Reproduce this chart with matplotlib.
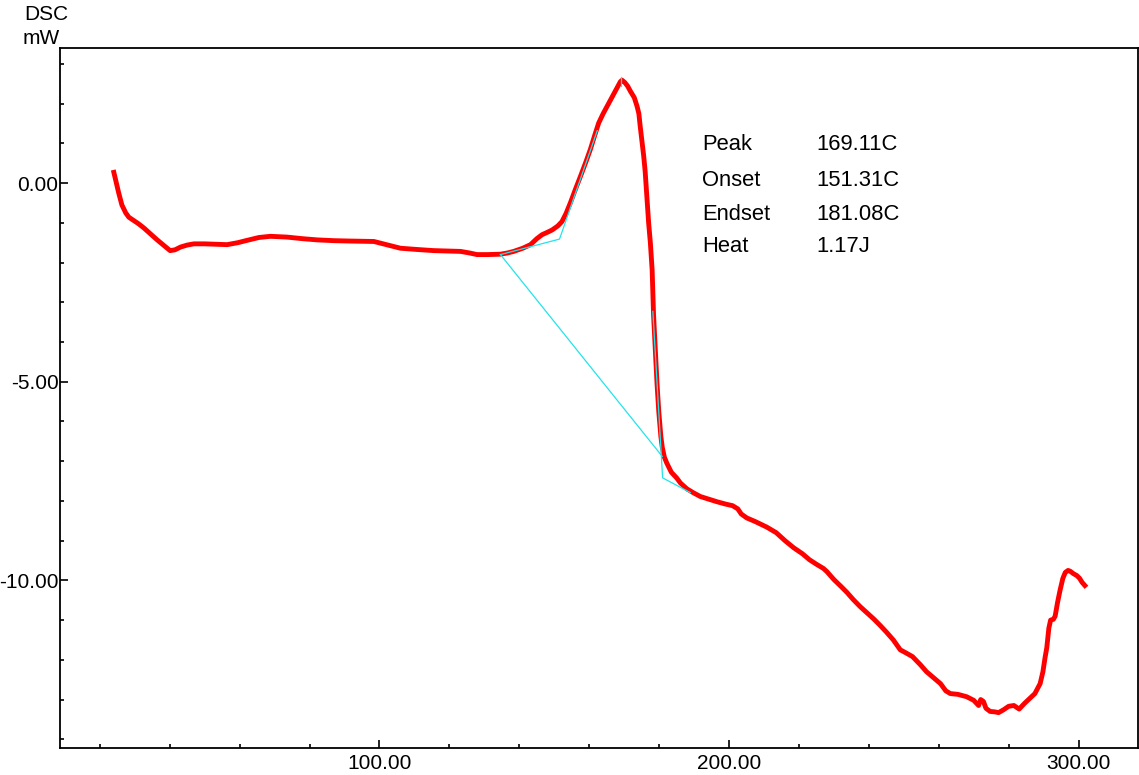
import matplotlib.pyplot as plt
from matplotlib.ticker import MultipleLocator, FormatStrFormatter

plt.rcParams['font.family'] = ['Liberation Sans', 'DejaVu Sans']

# DSC trace (temperature in C, heat flow in mW)
temp = [24.0, 24.6, 25.4, 26.3, 27.4, 28.3, 29.3, 31.0, 32.6, 34.5, 36.4, 38.3, 40.1, 41.5, 43.1,
        45.0, 46.9, 50.0, 53.0, 56.4, 59.5, 62.2, 65.5, 68.8, 71.5, 73.6, 78.0, 82.2, 87.0, 92.0,
        98.4, 102.0, 106.0, 110.5, 115.5, 119.5, 123.2, 125.8, 127.9, 131.0, 134.6, 136.6, 138.4,
        141.0, 143.2, 145.0, 146.5, 148.0, 149.4, 151.0, 152.2, 153.4, 154.6, 156.0, 157.5, 159.0,
        160.3, 161.5, 162.7, 164.0, 165.1, 166.5, 168.0, 168.9, 169.4, 170.2, 171.0, 171.8, 172.9,
        173.7, 174.2, 174.6, 175.1, 175.6, 176.0, 176.5, 177.0, 177.5, 178.0, 178.4, 178.9, 179.4,
        179.9, 180.5, 180.9, 181.5, 182.2, 183.5, 185.0, 186.1, 188.0, 189.9, 191.8, 194.0, 196.5,
        199.0, 201.0, 202.5, 203.5, 205.1, 207.5, 210.8, 213.5, 216.0, 218.5, 221.0, 223.0, 225.1,
        227.0, 228.0, 230.0, 232.0, 233.7, 235.5, 237.5, 239.5, 241.5, 243.3, 245.0, 247.0, 249.0,
        250.5, 252.5, 254.7, 256.5, 258.5, 260.5, 262.0, 263.3, 265.5, 268.0, 270.0, 271.4, 272.0,
        272.8, 273.5, 274.7, 276.0, 277.1, 278.5, 280.0, 281.5, 283.0, 284.5, 286.2, 287.5, 289.0,
        289.8, 290.4, 290.9, 291.5, 292.0, 292.8, 293.3, 294.0, 294.7, 295.5, 296.2, 297.0, 297.6,
        298.5, 299.5, 300.3, 301.0, 301.8]
dsc = [0.27, 0.05, -0.25, -0.55, -0.75, -0.86, -0.92, -1.02, -1.13, -1.28, -1.43, -1.57, -1.70, -1.68,
       -1.61, -1.56, -1.53, -1.53, -1.54, -1.55, -1.50, -1.44, -1.37, -1.34, -1.35, -1.36, -1.40, -1.43,
       -1.45, -1.46, -1.47, -1.55, -1.64, -1.67, -1.70, -1.71, -1.72, -1.76, -1.80, -1.80, -1.79, -1.76,
       -1.72, -1.64, -1.55, -1.40, -1.30, -1.24, -1.18, -1.08, -0.97, -0.76, -0.50, -0.17, 0.17, 0.52,
       0.84, 1.18, 1.51, 1.75, 1.93, 2.16, 2.40, 2.55, 2.59, 2.53, 2.44, 2.31, 2.15, 1.93, 1.75, 1.42,
       1.05, 0.67, 0.30, -0.34, -1.00, -1.51, -2.18, -3.30, -4.20, -5.05, -5.75, -6.38, -6.65, -6.90,
       -7.05, -7.28, -7.42, -7.55, -7.70, -7.80, -7.89, -7.95, -8.02, -8.08, -8.12, -8.20, -8.33, -8.43,
       -8.52, -8.66, -8.80, -9.00, -9.18, -9.33, -9.48, -9.60, -9.70, -9.78, -9.98, -10.15, -10.30,
       -10.48, -10.66, -10.82, -10.98, -11.14, -11.30, -11.50, -11.75, -11.82, -11.92, -12.12, -12.30,
       -12.45, -12.60, -12.78, -12.85, -12.87, -12.93, -13.02, -13.15, -13.00, -13.05, -13.22, -13.30,
       -13.31, -13.33, -13.26, -13.17, -13.15, -13.24, -13.10, -12.96, -12.85, -12.60, -12.30, -11.95,
       -11.70, -11.20, -11.00, -10.98, -10.90, -10.55, -10.25, -9.95, -9.80, -9.75, -9.77, -9.83,
       -9.88, -9.95, -10.05, -10.13]

# analysis construction lines (cyan)
base_t = [134.6, 180.9]
base_y = [-1.80, -6.88]
onset_t = [134.6, 151.5, 162.3]
onset_y = [-1.80, -1.41, 1.32]
endset_t = [178.2, 181.0, 188.9]
endset_y = [-3.23, -7.42, -7.79]
peak_t = [169.2, 169.2]
peak_y = [2.45, 2.68]

result_names = ['Peak', 'Onset', 'Endset', 'Heat']
result_values = ['169.11C', '151.31C', '181.08C', '1.17J']

W, H = 1139, 775
fig = plt.figure(figsize=(W / 100, H / 100), dpi=100)
ax = fig.add_axes([60 / W, 1 - 748 / H, (1138 - 60) / W, (748 - 48) / H])

ax.plot(temp, dsc, color='#ff0000', lw=3.5, solid_joinstyle='round', zorder=2)
cyan = '#22e4ea'
for tt, yy in [(base_t, base_y), (onset_t, onset_y), (endset_t, endset_y), (peak_t, peak_y)]:
    ax.plot(tt, yy, color=cyan, lw=0.9, zorder=3)

ax.set_xlim(8.6, 317)
ax.set_ylim(-14.22, 3.40)
ax.xaxis.set_major_locator(MultipleLocator(100))
ax.xaxis.set_minor_locator(MultipleLocator(20))
ax.yaxis.set_major_locator(MultipleLocator(5))
ax.yaxis.set_minor_locator(MultipleLocator(1))
ax.xaxis.set_major_formatter(FormatStrFormatter('%.2f'))
ax.yaxis.set_major_formatter(FormatStrFormatter('%.2f'))
ax.tick_params(which='both', direction='in', width=1.2, labelsize=15, colors='black')
ax.tick_params(which='major', length=6, pad=4)
ax.tick_params(which='minor', length=2.8)
ax.tick_params(axis='y', which='major', pad=1)
for s in ax.spines.values():
    s.set_linewidth(1.3)

fig.text(24 / W, 1 - 15 / H, 'DSC', fontsize=15, va='center', ha='left')
fig.text(23 / W, 1 - 38 / H, 'mW', fontsize=15, va='center', ha='left')

rows_y = [145, 180, 214, 247]
for name, val, py in zip(result_names, result_values, rows_y):
    fig.text(702 / W, 1 - py / H, name, fontsize=15.8, va='center', ha='left')
    fig.text(816 / W, 1 - py / H, val, fontsize=15.8, va='center', ha='left')

fig.savefig('out.png', dpi=100)
